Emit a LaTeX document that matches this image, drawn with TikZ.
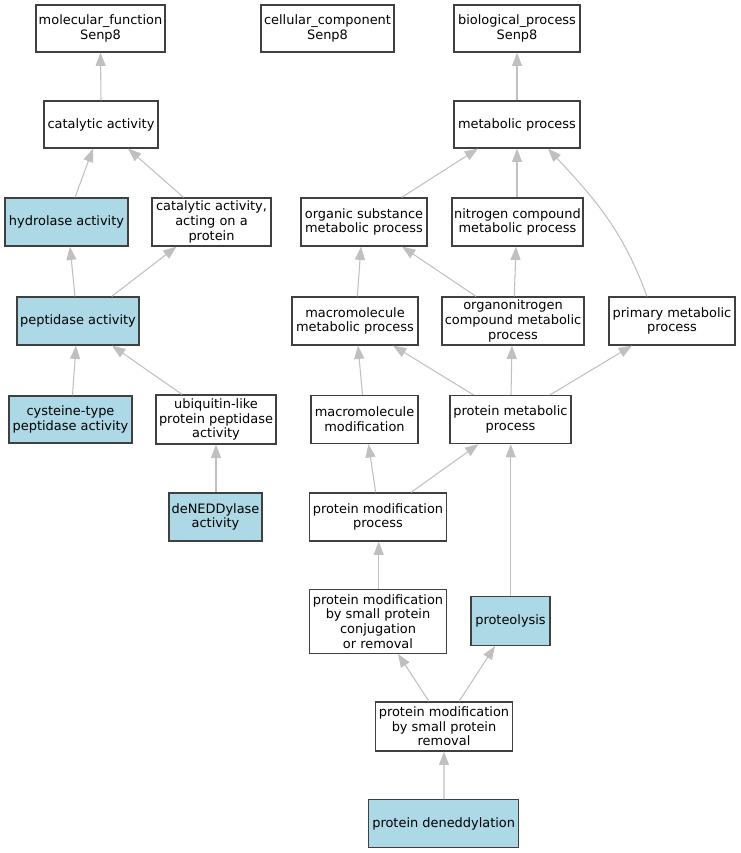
\documentclass[tikz,border=0pt]{standalone}
\usepackage{fontspec}
\setmainfont{DejaVu Sans}
\usetikzlibrary{arrows.meta,calc}
\newcommand{\goedge}[4]{\draw[edge] ($(#1.north)+(#2,0)$) -- ($(#3.south)+(#4,0)$);}
\begin{document}
\begin{tikzpicture}[x=0.75pt,y=-0.75pt,
  box/.style={draw=black!75,line width=0.9pt,fill=white,align=center,inner sep=0pt,
    font=\fontsize{9.7}{11}\selectfont,minimum height=48*0.75pt},
  hit/.style={box,fill=lightblue},
  mw/.style={minimum width=#1*0.75pt},
  mh/.style={minimum height=#1*0.75pt},
  edge/.style={draw=edgegray,line width=0.8pt,-{Triangle[length=10pt,width=7.5pt,fill=edgegray]}}]
\definecolor{lightblue}{HTML}{ADD8E6}
\definecolor{edgegray}{HTML}{C0C0C0}
\useasboundingbox (0,0) rectangle (740,853);
% nodes
\node[box,mw=129,mh=47] (mf) at (100.5,28.5) {molecular\_function\\Senp8};
\node[box,mw=133,mh=47] (cc) at (327.5,28.5) {cellular\_component\\Senp8};
\node[box,mw=126,mh=47] (bp) at (517,28.5) {biological\_process\\Senp8};
\node[box,mw=114,mh=47] (cat) at (101,124.5) {catalytic activity};
\node[box,mw=126,mh=47] (met) at (517,124.5) {metabolic process};
\node[hit,mw=123] (hyd) at (66.5,222) {hydrolase activity};
\node[box,mw=119] (catp) at (211.5,222) {catalytic activity,\\acting on a\\protein};
\node[box,mw=126] (org) at (364,222) {organic substance\\metabolic process};
\node[box,mw=131] (nit) at (517.5,222) {nitrogen compound\\metabolic process};
\node[hit,mw=122] (pep) at (78,321) {peptidase activity};
\node[box,mw=126] (mmp) at (355,321) {macromolecule\\metabolic process};
\node[box,mw=142] (orgn) at (513,321) {organonitrogen\\compound metabolic\\process};
\node[box,mw=126] (prim) at (672,321) {primary metabolic\\process};
\node[hit,mw=123,mh=47] (cys) at (70.5,419.5) {cysteine-type\\peptidase activity};
\node[box,mw=120,mh=49] (ubi) at (216,419.5) {ubiquitin-like\\protein peptidase\\activity};
\node[box,mw=107] (mm) at (364.5,419.5) {macromolecule\\modification};
\node[box,mw=121] (pm) at (510.5,419.5) {protein metabolic\\process};
\node[hit,mw=93] (den) at (215.5,517) {deNEDDylase\\activity};
\node[box,mw=137] (pmp) at (378,517) {protein modification\\process};
\node[box,mw=137,mh=64] (pmsc) at (378,621.3) {protein modification\\by small protein\\conjugation\\or removal};
\node[hit,mw=79,mh=49] (prot) at (510.5,621) {proteolysis};
\node[box,mw=137,mh=49] (pmsr) at (444,726.5) {protein modification\\by small protein\\removal};
\node[hit,mw=150] (pd) at (443.7,823.7) {protein deneddylation};
% edges
\goedge{cat}{0}{mf}{0}
\goedge{hyd}{8.5}{cat}{-8}
\goedge{catp}{-28}{cat}{27}
\goedge{pep}{-3}{hyd}{3.5}
\goedge{pep}{33.7}{catp}{-35}
\goedge{cys}{2}{pep}{-2}
\goedge{ubi}{-34}{pep}{34}
\goedge{den}{0.5}{ubi}{0}
\goedge{met}{0}{bp}{0}
\goedge{org}{37.7}{met}{-39}
\goedge{nit}{-0.5}{met}{0}
\draw[edge] ($(prim.north)+(-25,0)$) to[out=110,in=-47] ($(met.south)+(31,0)$);
\goedge{mmp}{2.3}{org}{-3}
\goedge{orgn}{-37}{org}{38}
\goedge{orgn}{1.3}{nit}{-1.5}
\goedge{mm}{-2}{mmp}{3}
\goedge{pm}{-37}{mmp}{38}
\goedge{pm}{0.5}{orgn}{-1}
\goedge{pm}{39.5}{prim}{-40}
\goedge{pmp}{-2.3}{mm}{4}
\goedge{pmp}{33}{pm}{-32}
\goedge{pmsc}{0.7}{pmp}{0.7}
\goedge{prot}{0.2}{pm}{0.2}
\goedge{pmsr}{-15}{pmsc}{20}
\goedge{pmsr}{15}{prot}{-15.5}
\goedge{pd}{0.3}{pmsr}{0}
\end{tikzpicture}
\end{document}
